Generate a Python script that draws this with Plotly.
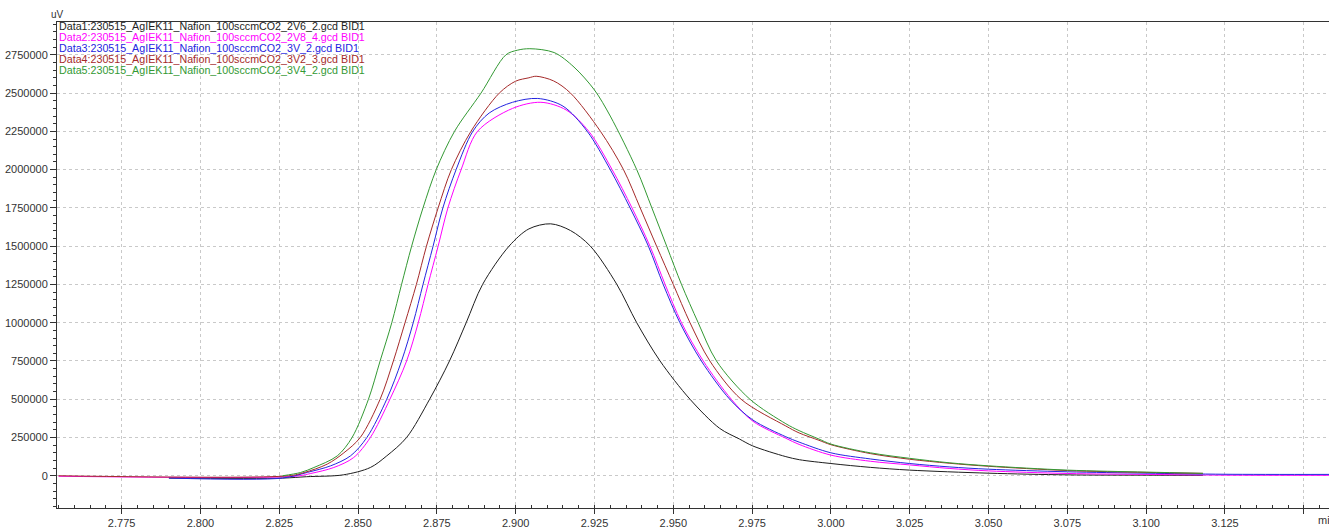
import plotly.graph_objects as go

# Retention time (min) and detector signal (uV) for each run
t_data1 = [2.790, 2.826, 2.8337, 2.8453, 2.8539, 2.8591, 2.8654, 2.8727, 2.8790, 2.8843,
           2.8895, 2.8979, 2.9042, 2.9111, 2.9174, 2.9237, 2.9321, 2.9384, 2.9458, 2.9553,
           2.9647, 2.9710, 2.9752, 2.9857, 2.990, 3.000, 3.0125, 3.025, 3.050, 3.075,
           3.100, 3.118]
y_data1 = [-15000, -15000, -6000, 6000, 54000, 130000, 250000, 500000, 750000, 1000000,
           1250000, 1500000, 1613000, 1646000, 1602000, 1500000, 1250000, 1000000, 750000, 500000,
           310000, 240000, 195000, 125000, 105000, 80000, 55000, 37000, 17000, 6000,
           4000, 3000]

t_data2 = [2.755, 2.830, 2.835, 2.8423, 2.8486, 2.8539, 2.8601, 2.8654, 2.8691, 2.8722,
           2.8754, 2.8785, 2.8827, 2.8879, 2.8990, 2.908, 2.9160, 2.9232, 2.9306, 2.9369,
           2.9426, 2.9474, 2.9526, 2.9595, 2.9684, 2.9752, 2.9857, 2.9899, 3.000, 3.0125,
           3.025, 3.0375, 3.050, 3.075, 3.100, 3.125, 3.158]
y_data2 = [-3000, -3000, 15000, 54000, 119000, 250000, 500000, 750000, 1000000, 1250000,
           1500000, 1750000, 2000000, 2250000, 2400000, 2440000, 2390000, 2250000, 2000000, 1750000,
           1500000, 1250000, 1000000, 750000, 500000, 357000, 245000, 205000, 135000, 95000,
           71000, 48000, 32000, 15000, 9000, 4000, 3000]

t_data3 = [2.790, 2.826, 2.8339, 2.8413, 2.8476, 2.8528, 2.8591, 2.8638, 2.8675, 2.8706,
           2.8738, 2.8769, 2.8811, 2.8864, 2.8916, 2.8990, 2.907, 2.9150, 2.9227, 2.9300,
           2.9363, 2.9421, 2.9468, 2.9521, 2.9589, 2.9679, 2.9752, 2.9857, 2.9899, 3.000,
           3.0125, 3.025, 3.0375, 3.050, 3.075, 3.100, 3.125, 3.158]
y_data3 = [-15000, -15000, 22000, 65000, 130000, 250000, 500000, 750000, 1000000, 1250000,
           1500000, 1750000, 2000000, 2250000, 2370000, 2440000, 2465000, 2415000, 2250000, 2000000,
           1750000, 1500000, 1250000, 1000000, 750000, 500000, 365000, 255000, 220000, 150000,
           110000, 80000, 58000, 43000, 26000, 17000, 10000, 9000]

t_data4 = [2.755, 2.828, 2.8329, 2.8402, 2.8455, 2.8507, 2.8570, 2.8612, 2.8649, 2.8685,
           2.8717, 2.8754, 2.8796, 2.8858, 2.8948, 2.9000, 2.9042, 2.9065, 2.9120, 2.9174,
           2.9269, 2.9342, 2.9395, 2.9447, 2.9500, 2.9553, 2.9616, 2.9715, 2.9857, 2.9899,
           2.9962, 3.000, 3.0125, 3.025, 3.0375, 3.050, 3.075, 3.100, 3.118]
y_data4 = [0, 0, 21000, 76000, 150000, 250000, 500000, 750000, 1000000, 1250000,
           1500000, 1750000, 2000000, 2250000, 2500000, 2578000, 2600000, 2610000, 2580000, 2500000,
           2250000, 2000000, 1750000, 1500000, 1250000, 1000000, 750000, 500000, 325000, 280000,
           232000, 203000, 145000, 108000, 82000, 62000, 34000, 22000, 16000]

t_data5 = [2.826, 2.8318, 2.8360, 2.8434, 2.8481, 2.8533, 2.8570, 2.8607, 2.8638,
           2.8670, 2.8706, 2.8748, 2.8806, 2.8890, 2.8969, 2.9005, 2.9045, 2.9122, 2.9185, 2.9250,
           2.9300, 2.9384, 2.9432, 2.9479, 2.9526, 2.9579, 2.9637, 2.9743, 2.9857, 2.9899,
           2.9962, 3.000, 3.0125, 3.025, 3.0375, 3.050, 3.075, 3.100, 3.118]
y_data5 = [0, 21600, 54000, 130000, 250000, 500000, 750000, 1000000, 1250000,
           1500000, 1750000, 2000000, 2250000, 2500000, 2750000, 2780000, 2790000, 2765000, 2670000, 2520000,
           2350000, 2000000, 1750000, 1500000, 1250000, 1000000, 750000, 500000, 340000, 295000,
           240000, 207000, 150000, 114000, 85000, 65000, 37000, 24000, 16000]

run_names = [
    "Data1:230515_AgIEK11_Nafion_100sccmCO2_2V6_2.gcd BID1",
    "Data2:230515_AgIEK11_Nafion_100sccmCO2_2V8_4.gcd BID1",
    "Data3:230515_AgIEK11_Nafion_100sccmCO2_3V_2.gcd BID1",
    "Data4:230515_AgIEK11_Nafion_100sccmCO2_3V2_3.gcd BID1",
    "Data5:230515_AgIEK11_Nafion_100sccmCO2_3V4_2.gcd BID1",
]
run_colors = ["#1e1e1e", "#ff00ff", "#2424e0", "#a52a2a", "#339933"]

# Time axis ticks; the last one stays unlabelled beside the unit text
x_tick_vals = [2.775, 2.800, 2.825, 2.850, 2.875, 2.900, 2.925, 2.950, 2.975,
               3.000, 3.025, 3.050, 3.075, 3.100, 3.125, 3.150]
x_tick_text = ["2.775", "2.800", "2.825", "2.850", "2.875", "2.900", "2.925", "2.950", "2.975",
               "3.000", "3.025", "3.050", "3.075", "3.100", "3.125", ""]

runs = [(t_data1, y_data1), (t_data2, y_data2), (t_data3, y_data3),
        (t_data4, y_data4), (t_data5, y_data5)]

fig = go.Figure()
for (t, y), name, color in zip(runs, run_names, run_colors):
    fig.add_trace(go.Scatter(
        x=t, y=y, mode="lines", name=name,
        line=dict(color=color, width=1, shape="spline", smoothing=0.9),
        showlegend=False, hoverinfo="x+y+name",
    ))

font_family = "Liberation Sans, Arial, sans-serif"
tick_font = dict(family=font_family, size=11, color="#333333")
grid_color = "#c9c9c9"

fig.update_xaxes(
    range=[2.7545, 3.158],
    tickmode="array", tickvals=x_tick_vals, ticktext=x_tick_text,
    ticks="outside", ticklen=5, tickcolor="#333333",
    minor=dict(dtick=0.005, tick0=2.775, ticks="inside", ticklen=3, tickcolor="#333333",
               showgrid=False),
    showgrid=True, gridcolor=grid_color, griddash="3px,3px", gridwidth=1,
    showline=True, linecolor="#333333", linewidth=1, mirror=True,
    zeroline=False, tickfont=tick_font,
)
fig.update_yaxes(
    range=[-210500, 2964500],
    tick0=0, dtick=250000, tickformat="d",
    ticks="outside", ticklen=6, tickcolor="#333333",
    minor=dict(dtick=50000, ticks="outside", ticklen=3, tickcolor="#333333", showgrid=False),
    showgrid=True, gridcolor=grid_color, griddash="3px,3px", gridwidth=1,
    showline=True, linecolor="#333333", linewidth=1,
    zeroline=False, tickfont=tick_font,
)

annotations = [
    dict(text="uV", xref="paper", yref="paper", x=0, y=1, xanchor="center", yanchor="bottom",
         showarrow=False, font=dict(family=font_family, size=10, color="#333333")),
    dict(text="min", xref="paper", yref="paper", x=(1316 - 57) / (1329 - 57), y=0,
         xanchor="left", yanchor="top", yshift=-4, showarrow=False, font=tick_font),
]
for i, (name, color) in enumerate(zip(run_names, run_colors)):
    annotations.append(dict(
        text=name, xref="paper", yref="paper", x=0, y=1, xanchor="left", yanchor="middle",
        xshift=0, yshift=-(4 + 11 * i), showarrow=False,
        font=dict(family=font_family, size=10.7, color=color),
    ))

fig.update_layout(
    width=1329, height=529,
    margin=dict(l=57, r=0, t=22, b=18),
    paper_bgcolor="white", plot_bgcolor="white",
    annotations=annotations,
)

fig.write_html("out.html")
